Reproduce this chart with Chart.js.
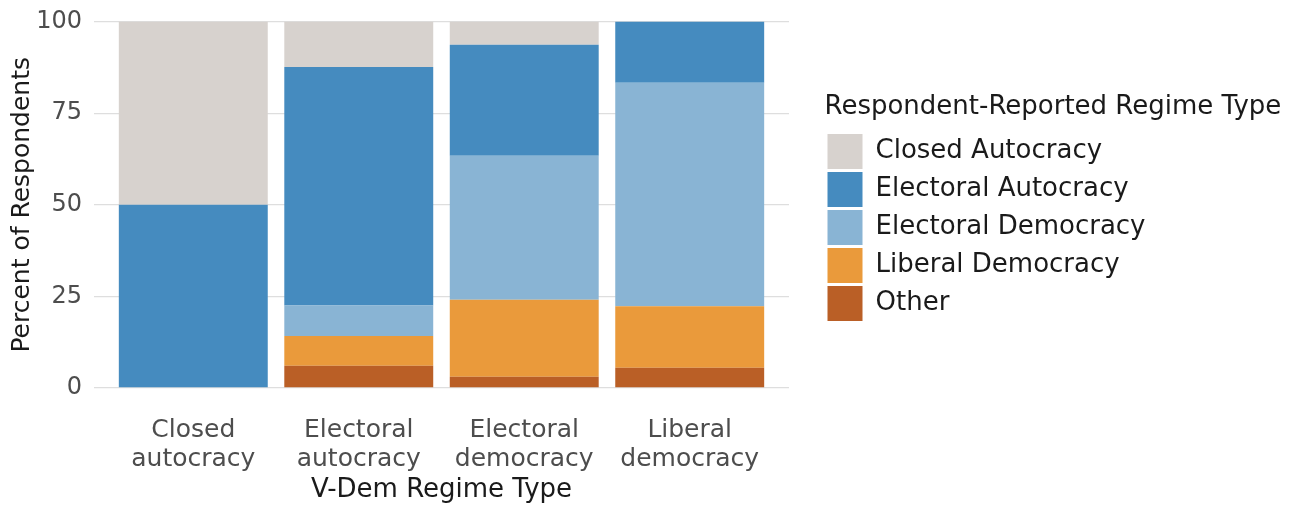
<!DOCTYPE html>
<html>
<head>
<meta charset="utf-8">
<script src="https://cdn.jsdelivr.net/npm/chart.js@4.4.0/dist/chart.umd.min.js"></script>
<style>
  html, body { margin: 0; padding: 0; background: #fff; }
  #wrap { width: 1303px; height: 508px; }
</style>
</head>
<body>
<div id="wrap"><canvas id="chart"></canvas></div>
<script>
// V-Dem regime type (x categories), two-line tick labels
const regimeLabels = [
  ['Closed', 'autocracy'],
  ['Electoral', 'autocracy'],
  ['Electoral', 'democracy'],
  ['Liberal', 'democracy']
];
const yTicks = [0, 25, 50, 75, 100];

// percent of respondents per reported regime type
const closedAutocracy    = [50.0, 12.4,  6.3,  0.0];
const electoralAutocracy = [50.0, 65.1, 30.3, 16.7];
const electoralDemocracy = [ 0.0,  8.3, 39.3, 61.0];
const liberalDemocracy   = [ 0.0,  8.1, 21.0, 16.8];
const otherType          = [ 0.0,  6.1,  3.1,  5.5];

const FONT = "'DejaVu Sans', sans-serif";
const GREY = '#4d4d4d';
const DARK = '#1a1a1a';

// plot box in page pixels (top comes from y tick label height + padding)
const PLOT_LEFT = 94, PLOT_RIGHT = 789, PLOT_BOTTOM = 388;
const LEGEND_GAP = 35.5, LEGEND_DROP = 2;

const toPoints = vals => vals.map((v, i) => ({ x: i + 1, y: v }));

function series(label, vals, color) {
  return { label, data: toPoints(vals), backgroundColor: color, borderWidth: 0 };
}

// bottom of the stack first; legend is reversed
const datasets = [
  series('Other', otherType, '#ba5f26'),
  series('Liberal Democracy', liberalDemocracy, '#ea9a3b'),
  series('Electoral Democracy', electoralDemocracy, '#89b4d4'),
  series('Electoral Autocracy', electoralAutocracy, '#458bbf'),
  series('Closed Autocracy', closedAutocracy, '#d7d2ce')
];

const legendPlace = {
  id: 'legendPlace',
  beforeLayout(chart) {
    const lg = chart.legend;
    if (lg && !lg._patched) {
      const fit = lg.fit;
      lg.fit = function () {
        fit.call(this);
        this.width = chart.width - PLOT_RIGHT;
      };
      lg._patched = true;
    }
  },
  afterLayout(chart) {
    const lg = chart.legend;
    lg.left += LEGEND_GAP;
    lg.right += LEGEND_GAP;
    lg.top += LEGEND_DROP;
    lg.bottom += LEGEND_DROP;
  }
};

Chart.defaults.font.family = FONT;

new Chart(document.getElementById('chart'), {
  type: 'bar',
  data: { datasets },
  plugins: [legendPlace],
  options: {
    responsive: true,
    maintainAspectRatio: false,
    animation: false,
    categoryPercentage: 1,
    barPercentage: 0.9,
    layout: { padding: 0 },
    plugins: {
      tooltip: { enabled: false },
      legend: {
        position: 'right',
        fullSize: false,
        align: 'center',
        reverse: true,
        title: {
          display: true,
          position: 'start',
          text: 'Respondent-Reported Regime Type',
          color: DARK,
          font: { size: 26 },
          padding: 5
        },
        labels: { boxWidth: 35, boxHeight: 35, padding: 3, color: DARK, font: { size: 26 } }
      }
    },
    scales: {
      x: {
        type: 'linear',
        stacked: true,
        offset: false,
        min: 0.4,
        max: 4.6,
        afterBuildTicks(s) { s.ticks = regimeLabels.map((_, i) => ({ value: i + 1 })); },
        ticks: {
          callback: (v, i) => regimeLabels[i],
          autoSkip: false,
          maxRotation: 0,
          padding: 28.5,
          color: GREY,
          font: { size: 25, lineHeight: 1.14 }
        },
        grid: { display: false, drawTicks: false },
        border: { display: false },
        title: {
          display: true,
          text: 'V-Dem Regime Type',
          color: DARK,
          font: { size: 26 },
          padding: { top: 0, bottom: 2 }
        },
        afterFit(s) { s.height = 508 - PLOT_BOTTOM; }
      },
      y: {
        stacked: true,
        min: 0,
        max: 100,
        afterBuildTicks(s) { s.ticks = yTicks.map(v => ({ value: v })); },
        ticks: { padding: 12, color: GREY, font: { size: 24, lineHeight: 0.8 } },
        grid: { color: '#dedede', lineWidth: 1.3, drawTicks: false },
        border: { display: false },
        title: {
          display: true,
          text: 'Percent of Respondents',
          color: DARK,
          font: { size: 25 },
          padding: { top: 7, bottom: 0 }
        },
        afterFit(s) { s.width = PLOT_LEFT; }
      }
    }
  }
});
</script>
</body>
</html>
